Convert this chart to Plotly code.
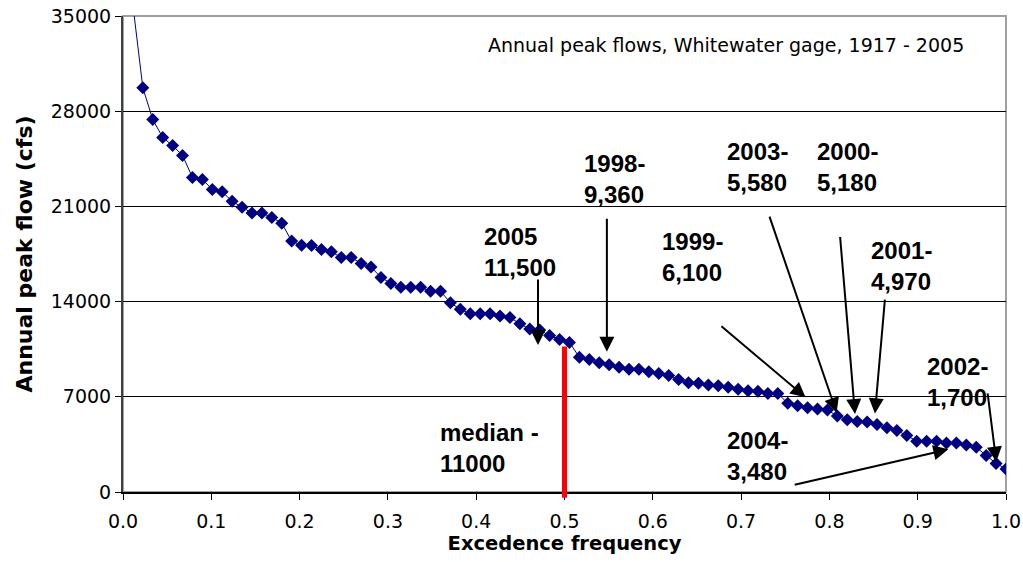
import plotly.graph_objects as go

# ---------------- data ----------------
peak_flow_cfs = [
    35800, 29720, 27390, 26070, 25480, 24750, 23130, 22980, 22250, 22070,
    21370, 20930, 20510, 20510, 20190, 19770, 18450, 18150, 18120, 17840,
    17660, 17250, 17250, 16810, 16540, 15780, 15340, 15050, 15050, 15050,
    14770, 14770, 13910, 13430, 13110, 13110, 13110, 12940, 12840, 12370,
    11980, 11910, 11500, 11220, 11000, 9900, 9750, 9500, 9360, 9170,
    9020, 9020, 8840, 8720, 8560, 8280, 8030, 7990, 7860, 7810,
    7700, 7550, 7450, 7400, 7250, 7250, 6520, 6340, 6200, 6100,
    6030, 5580, 5320, 5180, 5150, 4970, 4720, 4530, 4150, 3740,
    3740, 3740, 3610, 3610, 3450, 3290, 2690, 2100, 1700,
]
n_years = len(peak_flow_cfs)
exceedance = [(i + 1) / n_years for i in range(n_years)]

median_x = 0.5
median_bar_top = 10700

x_ticks = [round(0.1 * i, 1) for i in range(11)]
y_ticks = [0, 7000, 14000, 21000, 28000, 35000]

# annotation labels: text, label centre (x, y), arrow tail (x, y), arrow head (x, y)
label_texts = ["2005<br>11,500", "1998-<br>9,360", "1999-<br>6,100", "2003-<br>5,580",
               "2000-<br>5,180", "2001-<br>4,970", "2002-<br>1,700", "2004-<br>3,480",
               "median -<br>11000"]
label_x = [0.450, 0.557, 0.6455, 0.719, 0.820, 0.882, 0.9456, 0.719, 0.4156]
label_y = [17640, 23000, 17270, 23890, 23890, 16610, 8090, 2650, 3230]
arrow_tail_x = [0.470, 0.548, 0.676, 0.7316, 0.812, 0.863, 0.979, 0.759]
arrow_tail_y = [15730, 20210, 12280, 20360, 18860, 14260, 7370, 515]
arrow_head_x = [0.470, 0.548, 0.773, 0.8082, 0.829, 0.8516, 0.989, 0.9347]
arrow_head_y = [10800, 10310, 6960, 5830, 5730, 5780, 2230, 3140]

chart_note = "Annual peak flows, Whitewater gage, 1917 - 2005"

# ---------------- figure ----------------
FONT = "Liberation Sans, Arial, sans-serif"
WIDE = "DejaVu Sans, sans-serif"
NAVY = "#000080"

fig = go.Figure()

fig.add_trace(go.Scatter(
    x=exceedance, y=peak_flow_cfs, mode="lines+markers",
    line=dict(color=NAVY, width=1),
    marker=dict(symbol="diamond", size=10, color=NAVY),
    showlegend=False, hoverinfo="x+y",
))

# median bar (plus the short stub that pokes below the axis)
fig.add_shape(type="line", xref="x", yref="y", x0=median_x, x1=median_x,
              y0=0, y1=median_bar_top, line=dict(color="#ff0000", width=5), layer="above")
fig.add_shape(type="line", xref="x", yref="paper", x0=median_x, x1=median_x,
              y0=-0.012, y1=0.002, line=dict(color="#ff0000", width=5), layer="above")

# plot frame (gray top / right)
fig.add_shape(type="rect", xref="paper", yref="paper", x0=0, x1=1, y0=0, y1=1,
              line=dict(color="#a0a0a0", width=2), layer="below")

annotations = []
for i, t in enumerate(label_texts):
    annotations.append(dict(
        x=label_x[i], y=label_y[i], xref="x", yref="y", text=t, showarrow=False,
        font=dict(family=FONT, size=24, color="black", weight="bold"),
        align="left", xanchor="center", yanchor="middle",
    ))
for i in range(len(arrow_head_x)):
    annotations.append(dict(
        x=arrow_head_x[i], y=arrow_head_y[i], ax=arrow_tail_x[i], ay=arrow_tail_y[i],
        xref="x", yref="y", axref="x", ayref="y", text="", showarrow=True,
        arrowhead=2, arrowsize=1.5, arrowwidth=2, arrowcolor="black",
    ))
annotations.append(dict(
    x=0.683, y=0.94, xref="paper", yref="paper", text=chart_note, showarrow=False,
    font=dict(family=WIDE, size=19, color="black"), xanchor="center", yanchor="middle",
))

fig.update_layout(
    width=1023, height=562,
    margin=dict(l=123, r=17, t=16, b=70),
    paper_bgcolor="white", plot_bgcolor="white",
    font=dict(family=FONT, color="black"),
    annotations=annotations,
    xaxis=dict(
        range=[0, 1], tickvals=x_ticks, tickformat=".1f", automargin=False,
        ticks="outside", ticklen=6, tickcolor="black", tickwidth=1,
        ticklabelstandoff=5,
        showgrid=False, zeroline=False,
        showline=True, linecolor="black", linewidth=2,
        tickfont=dict(family=WIDE, size=19),
        title=dict(text="Excedence frequency", standoff=4,
                   font=dict(family=WIDE, size=19.5, weight="bold")),
    ),
    yaxis=dict(
        range=[0, 35000], tickvals=y_ticks, tickformat="d", automargin=False,
        ticks="outside", ticklen=6, tickcolor="black", tickwidth=1,
        showgrid=True, gridcolor="black", gridwidth=1, zeroline=False,
        showline=True, linecolor="#404040", linewidth=2,
        tickfont=dict(family=WIDE, size=19),
        title=dict(text="Annual peak flow (cfs)", standoff=12,
                   font=dict(family=WIDE, size=22, weight="bold")),
    ),
)

fig.write_html("out.html", config={"displayModeBar": False},
               post_script="document.body.style.margin='0';")
